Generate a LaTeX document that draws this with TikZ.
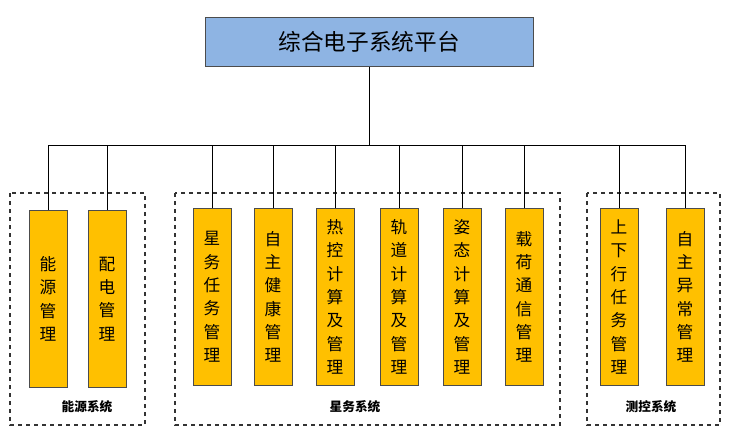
\documentclass[tikz,border=0pt]{standalone}
\usepackage{fontspec}
\setmainfont{Noto Sans CJK SC}
\begin{document}
\begin{tikzpicture}[x=0.75pt,y=-0.75pt,
 ob/.style={draw=black!70,fill={rgb,255:red,255;green,192;blue,0},minimum width=28.5pt,minimum height=133pt,anchor=north,inner sep=0pt,font=\fontsize{12.5pt}{17.5pt}\selectfont,align=center},
 grp/.style={draw=black!80,dashed,thick},
 glab/.style={font=\bfseries\fontsize{9.5pt}{11pt}\selectfont}]
\useasboundingbox (0,0) rectangle (729,437);
\node[draw=black!70,fill={rgb,255:red,142;green,180;blue,227},minimum width=246pt,minimum height=37pt,font=\fontsize{17pt}{20pt}\selectfont] (top) at (369,42) {综合电子系统平台};
\draw[grp] (10,193) rectangle (145,425);
\draw[grp] (175,193) rectangle (560,425);
\draw[grp] (587,193) rectangle (720,425);
\node[glab] (g1) at (87,407) {能源系统};
\node[glab] (g2) at (355,407) {星务系统};
\node[glab] (g3) at (651,407) {测控系统};
\coordinate (bus) at (369,145);
\draw (top.south) -- (bus);
\node[ob] (b1) at (48,210) {能\\源\\管\\理};
\node[ob] (b2) at (107,210) {配\\电\\管\\理};
\node[ob] (b3) at (212,208) {星\\务\\任\\务\\管\\理};
\node[ob] (b4) at (273,208) {自\\主\\健\\康\\管\\理};
\node[ob] (b5) at (335,208) {热\\控\\计\\算\\及\\管\\理};
\node[ob] (b6) at (399,208) {轨\\道\\计\\算\\及\\管\\理};
\node[ob] (b7) at (462,208) {姿\\态\\计\\算\\及\\管\\理};
\node[ob] (b8) at (524,208) {载\\荷\\通\\信\\管\\理};
\node[ob] (b9) at (619,208) {上\\下\\行\\任\\务\\管\\理};
\node[ob] (b10) at (685,208) {自\\主\\异\\常\\管\\理};
\draw (48,145) -- (685,145);
\foreach \b in {b1,b2,b3,b4,b5,b6,b7,b8,b9,b10} \draw (\b.north) -- (\b.north |- bus);
\end{tikzpicture}
\end{document}
